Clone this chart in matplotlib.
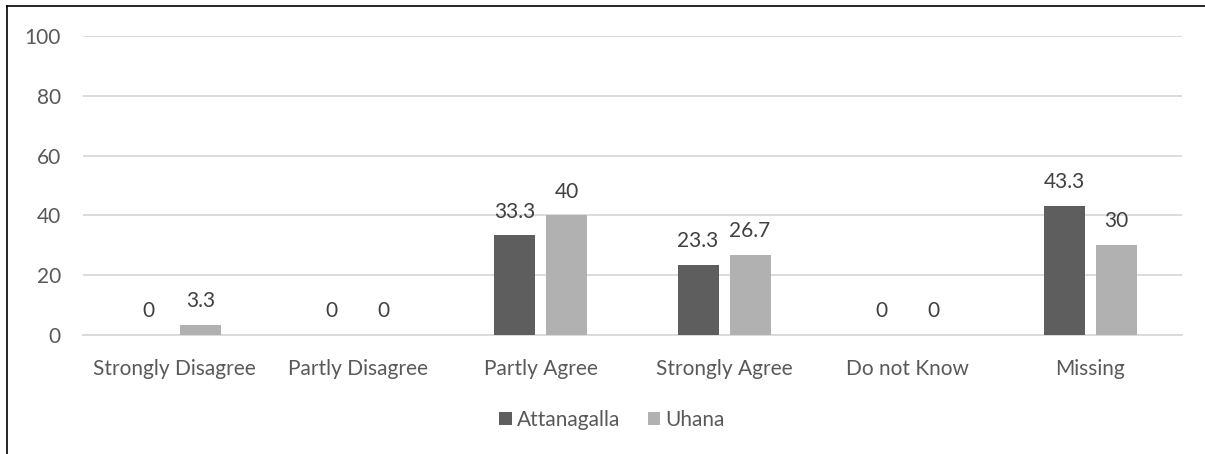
import numpy as np
import matplotlib
matplotlib.use("agg")
import matplotlib.pyplot as plt
from matplotlib.lines import Line2D

plt.rcParams["font.family"] = ["Lato", "DejaVu Sans"]

CATEGORIES = ["Strongly Disagree", "Partly Disagree", "Partly Agree",
              "Strongly Agree", "Do not Know", "Missing"]
ATTANAGALLA = [0, 0, 33.3, 23.3, 0, 43.3]
UHANA = [3.3, 0, 40, 26.7, 0, 30]
SERIES = ["Attanagalla", "Uhana"]

COLORS = {"Attanagalla": "#5e5e5e", "Uhana": "#b1b1b1"}
TEXT_COLOR = "#595959"
FS = 15

fig = plt.figure(figsize=(12.05, 4.54), dpi=100)
ax = fig.add_axes([83 / 1205, 119 / 454, 1099 / 1205, 299 / 454])

x = np.arange(len(CATEGORIES))
width = 0.224
offset = 0.284
for vals, name, dx in [(ATTANAGALLA, "Attanagalla", -offset / 2),
                       (UHANA, "Uhana", offset / 2)]:
    bars = ax.bar(x + dx, vals, width, color=COLORS[name], label=name, zorder=3)
    for b, v in zip(bars, vals):
        ax.annotate("{:g}".format(v), (b.get_x() + b.get_width() / 2, v),
                    xytext=(0, 10), textcoords="offset points",
                    ha="center", va="bottom", fontsize=FS, color="#404040")

ax.set_xlim(-0.5, len(CATEGORIES) - 0.5)
ax.set_ylim(0, 100)
ax.set_yticks(range(0, 101, 20))
ax.set_xticks(x)
ax.set_xticklabels(CATEGORIES)
ax.tick_params(axis="both", length=0, labelsize=FS, labelcolor=TEXT_COLOR)
ax.tick_params(axis="x", pad=17)
ax.tick_params(axis="y", pad=16)
ax.yaxis.grid(True, color="#d9d9d9", linewidth=1.3, zorder=0)
for side in ["top", "right", "left"]:
    ax.spines[side].set_visible(False)
ax.spines["bottom"].set_color("#d9d9d9")
ax.spines["bottom"].set_linewidth(1.3)

leg = fig.legend(loc="center", bbox_to_anchor=(612 / 1205, 1 - 420 / 454),
                 ncol=2, frameon=False, fontsize=FS, handlelength=0.6,
                 handleheight=0.6, handletextpad=0.25, columnspacing=1.3)
for t in leg.get_texts():
    t.set_color(TEXT_COLOR)

# outer frame, left and top edges
fig.add_artist(Line2D([7 / 1205, 7 / 1205], [0, 1 - 6 / 454], color="black", lw=1.2))
fig.add_artist(Line2D([7 / 1205, 1], [1 - 6 / 454, 1 - 6 / 454], color="black", lw=1.2))

fig.savefig("out.png", dpi=100)
